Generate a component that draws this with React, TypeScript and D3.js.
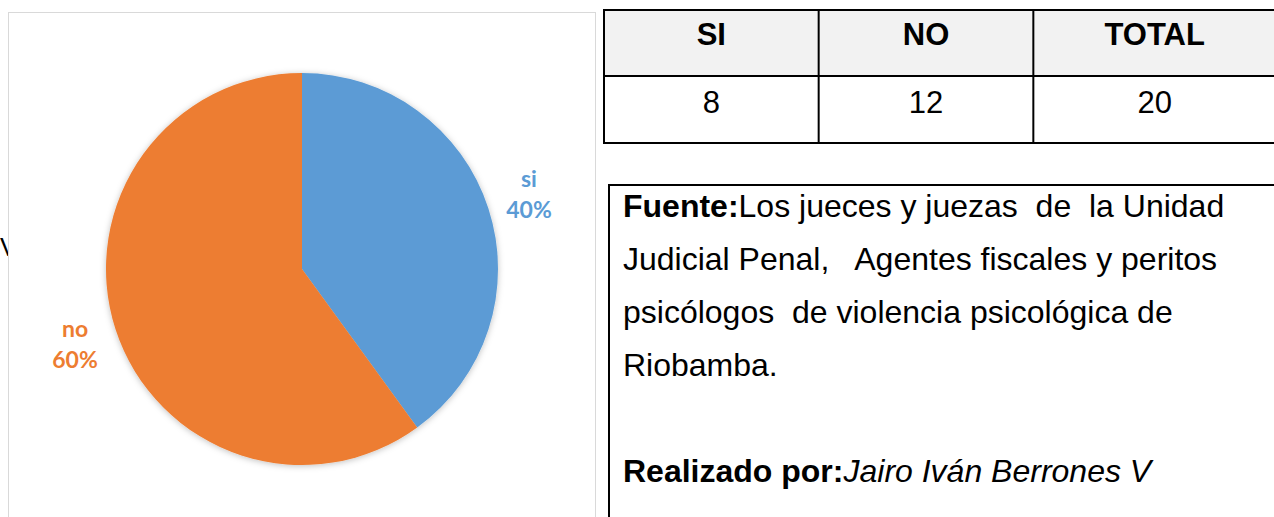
import React from "react";
import * as d3 from "d3";

const categories = ["si", "no"];
const values = [8, 12];
const colors = ["#5B9BD5", "#ED7D31"];
const tableHeaders = ["SI", "NO", "TOTAL"];
const tableValues = ["8", "12", "20"];
const sourceLines = [
  [{ t: "Fuente:", b: true }, { t: "Los jueces y juezas  de  la Unidad" }],
  [{ t: "Judicial Penal,   Agentes fiscales y peritos" }],
  [{ t: "psicólogos  de violencia psicológica de" }],
  [{ t: "Riobamba." }],
  [],
  [{ t: "Realizado por:", b: true }, { t: "Jairo Iván Berrones V", i: true }],
];

export default function App() {
  const W = 1274, H = 517;
  const cx = 302, cy = 269, r = 196;
  const total = d3.sum(values);
  const pie = d3.pie<number>().sort(null).value((d) => d)(values);
  const arc = d3.arc<d3.PieArcDatum<number>>().innerRadius(0).outerRadius(r);
  const labelPos = [
    { x: 529, y: 187 },
    { x: 75, y: 337 },
  ];
  const colX = d3.scaleBand<string>().domain(tableHeaders).range([604, 1248]);
  const labelFont = "Lato, 'Open Sans', sans-serif";
  const txtFont = "'Liberation Sans', Arial, sans-serif";
  return (
    <svg width={W} height={H} style={{ position: "absolute", left: 0, top: 0, background: "#fff" }}>
      <defs>
        <filter id="sh" x="-10%" y="-10%" width="120%" height="120%">
          <feDropShadow dx="0" dy="1" stdDeviation="3" floodColor="#000" floodOpacity="0.25" />
        </filter>
        <clipPath id="clipv"><rect x={0} y={230} width={8} height={40} /></clipPath>
      </defs>
      <rect x={0} y={0} width={W} height={H} fill="#fff" />
      {/* chart frame */}
      <rect x={8.5} y={12.5} width={587} height={520} fill="#fff" stroke="#d9d9d9" strokeWidth={1} />
      <text x={0} y={256} fontFamily={txtFont} fontSize={26} fill="#000" clipPath="url(#clipv)">V</text>
      <g transform={`translate(${cx},${cy})`} filter="url(#sh)">
        {pie.map((p, i) => (
          <path key={i} d={arc(p) || ""} fill={colors[i]} />
        ))}
      </g>
      {pie.map((p, i) => (
        <text key={i} fontFamily={labelFont} fontWeight="bold" fontSize={23} fill={colors[i]} textAnchor="middle">
          <tspan x={labelPos[i].x} y={labelPos[i].y}>{categories[i]}</tspan>
          <tspan x={labelPos[i].x} y={labelPos[i].y + 31}>{`${Math.round((values[i] / total) * 100)}%`}</tspan>
        </text>
      ))}
      {/* table */}
      <rect x={604} y={10} width={700} height={66} fill="#f2f2f2" />
      <rect x={604} y={10} width={700} height={133} fill="none" stroke="#000" strokeWidth={2} />
      <line x1={604} x2={1300} y1={76} y2={76} stroke="#000" strokeWidth={2} />
      {tableHeaders.slice(1).map((h) => (
        <line key={h} x1={colX(h)} x2={colX(h)} y1={10} y2={143} stroke="#000" strokeWidth={2} />
      ))}
      {tableHeaders.map((h, i) => (
        <g key={h}>
          <text x={(colX(h) || 0) + colX.bandwidth() / 2 + (i === 2 ? 14 : 0)} y={45} textAnchor="middle" fontFamily={txtFont} fontWeight="bold" fontSize={31}>{h}</text>
          <text x={(colX(h) || 0) + colX.bandwidth() / 2 + (i === 2 ? 14 : 0)} y={113} textAnchor="middle" fontFamily={txtFont} fontSize={31}>{tableValues[i]}</text>
        </g>
      ))}
      {/* source box */}
      <rect x={609} y={185} width={700} height={400} fill="#fff" stroke="#000" strokeWidth={2} />
      {sourceLines.map((line, li) => (
        <text key={li} x={623} y={217 + li * 53} fontFamily={txtFont} fontSize={32} fill="#000" style={{ whiteSpace: "pre" }}>
          {line.map((s: any, si) => (
            <tspan key={si} fontWeight={s.b ? "bold" : "normal"} fontStyle={s.i ? "italic" : "normal"}>{s.t}</tspan>
          ))}
        </text>
      ))}
    </svg>
  );
}
